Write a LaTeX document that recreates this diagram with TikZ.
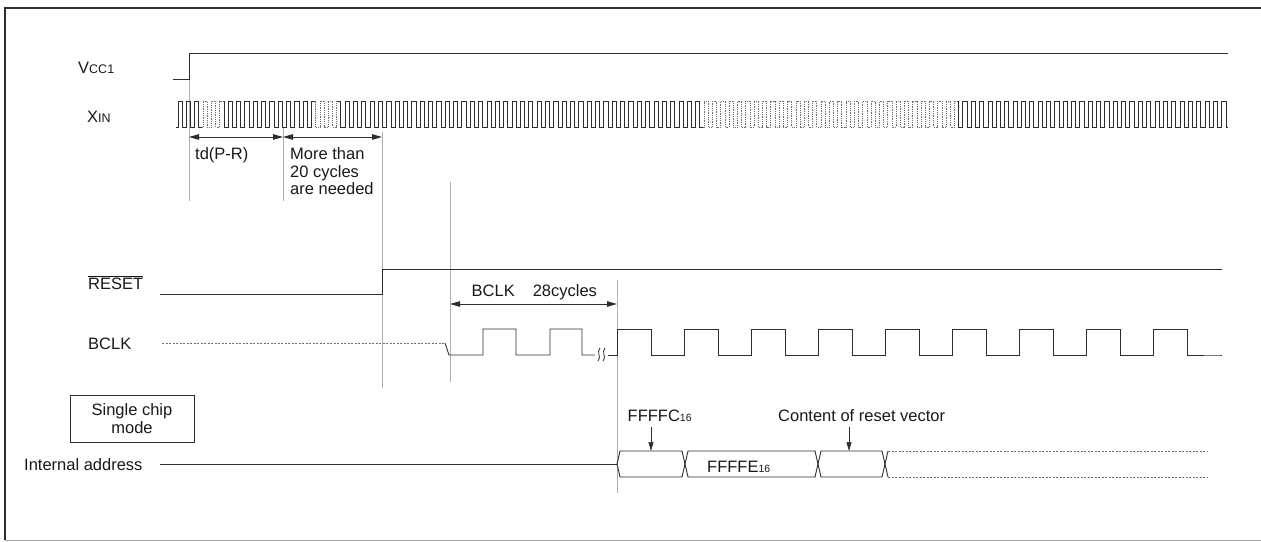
\documentclass[tikz,border=0pt]{standalone}
\usepackage{fontspec}
\setmainfont{Liberation Sans}
\usetikzlibrary{arrows.meta,positioning}
\definecolor{sigdark}{RGB}{45,45,45}
\definecolor{textdark}{RGB}{25,25,25}
\definecolor{guidegray}{RGB}{175,175,175}
\definecolor{dotgray}{RGB}{110,110,110}
\definecolor{framegray}{RGB}{165,165,165}
\newcommand{\smallsub}{\fontsize{12.5}{12.5}\selectfont}
\newcommand{\hexsub}{\fontsize{10.5}{10.5}\selectfont}
\newcommand{\xinpath}{(176,127) \foreach \k in {0,...,125} { -- ({178+8.35*\k},127) -- ({178+8.35*\k},101) -- ({182.2+8.35*\k},101) -- ({182.2+8.35*\k},127) } -- (1228,127)}

\begin{document}
\begin{tikzpicture}[x=1pt, y=-1pt,
    sig/.style={sigdark, line width=0.9pt},
    guide/.style={guidegray, line width=0.6pt},
    lbl/.style={font=\fontsize{16.5}{17.5}\selectfont, text=textdark, inner sep=0pt},
    dimarrow/.style={sigdark, line width=0.8pt, {Triangle[length=10pt,width=5.5pt]}-{Triangle[length=10pt,width=5.5pt]}},
    ptarrow/.style={sigdark, line width=0.7pt, -{Triangle[length=9pt,width=5pt]}},
    dotline/.style={dotgray, line width=0.8pt, dash pattern=on 2pt off 1.5pt}]
    \useasboundingbox (0,0) rectangle (1261,541);

    % Frame
    \draw[sigdark, line width=2.6pt] (5,540) -- (5,8) -- (1261,8);
    \draw[framegray, line width=1pt] (5,540) -- (1261,540);

    % Signal names
    \node[lbl, anchor=base west] (vcclbl) at (78,73) {V{\smallsub CC1}};
    \node[lbl, anchor=base west] (xinlbl) at (87,122) {X{\smallsub IN}};
    \node[lbl, anchor=base west] (resetlbl) at (88,289) {$\overline{\mbox{RESET}}$};
    \node[lbl, anchor=base west] (bclklbl) at (88,349) {BCLK};
    \node[lbl, draw=sigdark, line width=0.8pt, align=center, minimum width=124pt, minimum height=47pt] (singlemode) at (132,418.5) {Single chip\\mode};
    \node[lbl, anchor=base west] (addrlbl) at (24,470) {Internal address};

    % Guide lines
    \draw[guide] (189,53) -- (189,201);
    \draw[guide] (283,127) -- (283,201);
    \draw[guide] (382,132) -- (382,388);
    \draw[guide] (450,182) -- (450,382);
    \draw[guide] (617,280) -- (617,493);

    % Vcc1
    \draw[sig] (173,79) -- (189,79) -- (189,53) -- (1228,53);

    % XIN, solid and dotted parts
    \begin{scope}
        \clip (170,90) rectangle (202,135) (223,90) rectangle (315,135) (337,90) rectangle (703,135) (957,90) rectangle (1235,135);
        \draw[sig, line width=0.85pt] \xinpath;
    \end{scope}
    \begin{scope}
        \clip (202,90) rectangle (223,135) (315,90) rectangle (337,135) (703,90) rectangle (957,135);
        \draw[dotgray, line width=0.8pt, densely dotted] \xinpath;
    \end{scope}

    % td(P-R) and 20 cycles
    \coordinate (tdA) at (189,137);
    \coordinate (tdB) at (283,137);
    \coordinate (tdC) at (382,137);
    \draw[dimarrow] (tdA) -- (tdB);
    \draw[dimarrow] (tdB) -- (tdC);
    \node[lbl, anchor=base west] (tdlbl) at (195,159.5) {td(P-R)};
    \node[lbl, anchor=north west, align=left] (cyclbl) at (290,147.5) {More than\\20 cycles\\are needed};

    % RESET
    \draw[sig] (160,294) -- (382,294) -- (382,269) -- (1222,269);

    % BCLK
    \draw[dotline] (162,343) -- (445,343);
    \draw[sig] (445,343) -- (449,355) -- (483,355) -- (483,329) -- (516,329) -- (516,355)
        -- (550,355) -- (550,329) -- (582,329) -- (582,355) -- (595,355);
    \draw[sig, line width=0.8pt] (600,348) .. controls (596,352) and (602,357) .. (598,361);
    \draw[sig, line width=0.8pt] (605,348) .. controls (601,352) and (607,357) .. (603,361);
    \draw[sig] (608,355) -- (617,355) \foreach \k in {0,...,8} { -- ({617+67*\k},329) -- ({651+67*\k},329) -- ({651+67*\k},355) -- ({684+67*\k},355) } -- (1222,355);
    \coordinate (cycA) at (450,304);
    \coordinate (cycB) at (617,304);
    \draw[dimarrow] (cycA) -- (cycB);
    \node[lbl, anchor=base west] (bclkcyc) at (471.5,296.5) {BCLK\hspace{18pt}28cycles};

    % Internal address bus
    \draw[sig] (160,464) -- (617,464);
    \foreach \a/\b in {617/685, 685/818, 818/885}
        \draw[sig] (\a,464) -- (\a+3,451) -- (\b-3,451) -- (\b,464) -- (\b-3,477) -- (\a+3,477) -- cycle;
    \draw[sig] (888,451) -- (885,464) -- (888,477);
    \draw[dotline] (888,451) -- (1208,451);
    \draw[dotline] (888,477) -- (1208,477);
    \node[lbl, anchor=base west] (fffe) at (707,472.5) {FFFFE{\hexsub 16}};

    % Address labels
    \node[lbl, anchor=base west] (fffc) at (627.5,421) {FFFFC{\hexsub 16}};
    \node[lbl, anchor=base west] (vect) at (778,421) {Content of reset vector};
    \coordinate (fffcA) at (651,427);
    \coordinate (fffcB) at (651,451);
    \coordinate (vectA) at (849,427);
    \coordinate (vectB) at (849,451);
    \draw[ptarrow] (fffcA) -- (fffcB);
    \draw[ptarrow] (vectA) -- (vectB);
\end{tikzpicture}
\end{document}
